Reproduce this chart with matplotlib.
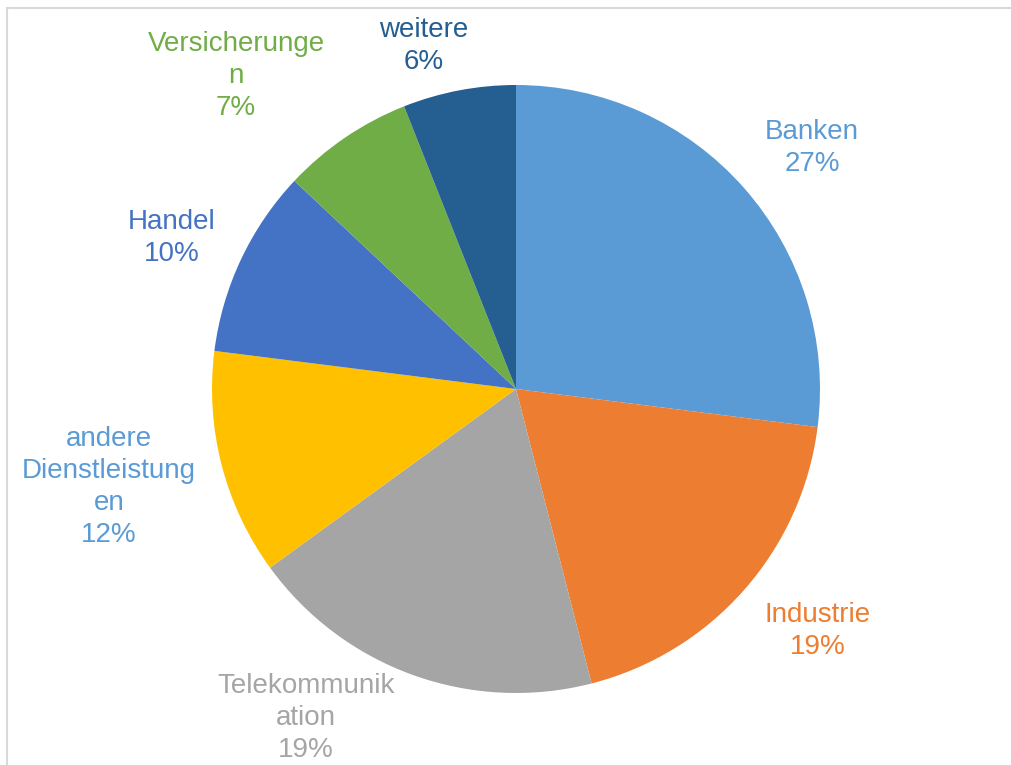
import matplotlib
matplotlib.use("Agg")
import matplotlib.pyplot as plt
from matplotlib.patches import Rectangle

categories = ["Banken", "Industrie", "Telekommunik\nation", "andere\nDienstleistung\nen",
              "Handel", "Versicherunge\nn", "weitere"]
values = [27, 19, 19, 12, 10, 7, 6]
slice_colors = ["#5B9BD5", "#ED7D31", "#A5A5A5", "#FFC000", "#4472C4", "#70AD47", "#255E91"]
label_colors = ["#5B9BD5", "#ED7D31", "#A5A5A5", "#5B9BD5", "#4472C4", "#70AD47", "#255E91"]

# label centre offsets (in pie-radius units) relative to pie centre
label_pos = [(0.974, 0.793), (0.993, -0.796), (-0.691, -1.082), (-1.339, -0.321),
             (-1.132, 0.497), (-0.921, 1.030), (-0.303, 1.128)]

W, H = 1011, 765
fig = plt.figure(figsize=(W / 100, H / 100), dpi=100)
fig.patch.set_facecolor("white")

# frame (left and top visible)
fig.add_artist(Rectangle((7 / W, -0.1), 1.2, (H - 8) / H + 0.1, transform=fig.transFigure,
                         fill=False, edgecolor="#D9D9D9", linewidth=1.5))

cx, cy, r = 516, 389, 304
ax = fig.add_axes([(cx - r) / W, (H - cy - r) / H, 2 * r / W, 2 * r / H])
ax.pie(values, colors=slice_colors, startangle=90, counterclock=False, radius=1,
       wedgeprops=dict(linewidth=0))
ax.set_xlim(-1, 1)
ax.set_ylim(-1, 1)
ax.set_aspect("equal")
ax.axis("off")

for cat, v, col, (lx, ly) in zip(categories, values, label_colors, label_pos):
    ax.text(lx, ly, f"{cat}\n{v}%", color=col, ha="center", va="center",
            fontsize=20, family="Liberation Sans", linespacing=1.3, clip_on=False)

fig.savefig("out.png", dpi=100, facecolor="white")
